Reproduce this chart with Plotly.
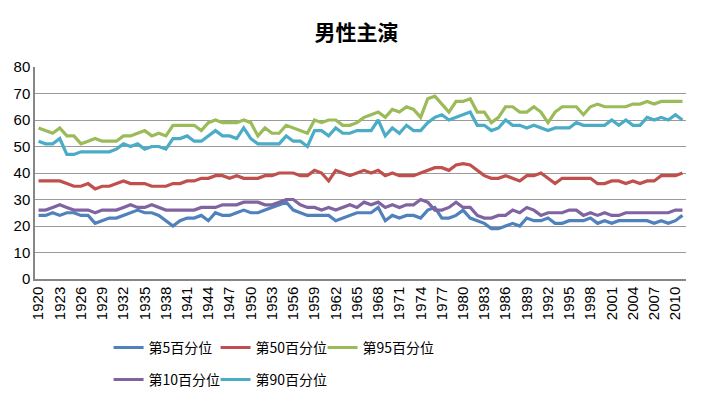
import plotly.graph_objects as go

years = list(range(1920, 2012))

p5 = [24, 24, 25, 24, 25, 25, 24, 24, 21, 22,
      23, 23, 24, 25, 26, 25, 25, 24, 22, 20,
      22, 23, 23, 24, 22, 25, 24, 24, 25, 26,
      25, 25, 26, 27, 28, 29, 26, 25, 24, 24,
      24, 24, 22, 23, 24, 25, 25, 25, 27, 22,
      24, 23, 24, 24, 23, 26, 27, 23, 23, 24,
      26, 23, 22, 21, 19, 19, 20, 21, 20, 23,
      22, 22, 23, 21, 21, 22, 22, 22, 23, 21,
      22, 21, 22, 22, 22, 22, 22, 21, 22, 21,
      22, 24]

p10 = [26, 26, 27, 28, 27, 26, 26, 26, 25, 26,
       26, 26, 27, 28, 27, 27, 28, 27, 26, 26,
       26, 26, 26, 27, 27, 27, 28, 28, 28, 29,
       29, 29, 28, 28, 29, 30, 30, 28, 27, 27,
       26, 27, 26, 27, 28, 27, 29, 28, 29, 27,
       28, 27, 28, 28, 30, 29, 26, 26, 27, 29,
       27, 27, 24, 23, 23, 24, 24, 26, 25, 27,
       26, 24, 25, 25, 25, 26, 26, 24, 25, 24,
       25, 24, 24, 25, 25, 25, 25, 25, 25, 25,
       26, 26]

p50 = [37, 37, 37, 37, 36, 35, 35, 36, 34, 35,
       35, 36, 37, 36, 36, 36, 35, 35, 35, 36,
       36, 37, 37, 38, 38, 39, 39, 38, 39, 38,
       38, 38, 39, 39, 40, 40, 40, 39, 39, 41,
       40, 37, 41, 40, 39, 40, 41, 40, 41, 39,
       40, 39, 39, 39, 40, 41, 42, 42, 41, 43,
       43.5, 43, 41, 39, 38, 38, 39, 38, 37, 39,
       39, 40, 38, 36, 38, 38, 38, 38, 38, 36,
       36, 37, 37, 36, 37, 36, 37, 37, 39, 39,
       39, 40]

p90 = [52, 51, 51, 53, 47, 47, 48, 48, 48, 48,
       48, 49, 51, 50, 51, 49, 50, 50, 49, 53,
       53, 54, 52, 52, 54, 56, 54, 54, 53, 57,
       53, 51, 51, 51, 51, 54, 52, 52, 50, 56,
       56, 54, 57, 55, 55, 56, 56, 56, 60, 54,
       57, 55, 58, 56, 56, 59, 61, 62, 60, 61,
       62, 63, 58, 58, 56, 57, 60, 58, 58, 57,
       58, 57, 56, 57, 57, 57, 59, 58, 58, 58,
       58, 60, 58, 60, 58, 58, 61, 60, 61, 60,
       62, 60]

p95 = [57, 56, 55, 57, 54, 54, 51, 52, 53, 52,
       52, 52, 54, 54, 55, 56, 54, 55, 54, 58,
       58, 58, 58, 56, 59, 60, 59, 59, 59, 60,
       59, 54, 57, 55, 55, 58, 57, 56, 55, 60,
       59, 60, 60, 58, 58, 59, 61, 62, 63, 61,
       64, 63, 65, 64, 61, 68, 69, 66, 63, 67,
       67, 68, 63, 63, 59, 61, 65, 65, 63, 63,
       65, 63, 59, 63, 65, 65, 65, 62, 65, 66,
       65, 65, 65, 65, 66, 66, 67, 66, 67, 67,
       67, 67]

series = [
    ("第5百分位", p5, "#4F81BD", "legend"),
    ("第50百分位", p50, "#C0504D", "legend"),
    ("第95百分位", p95, "#9BBB59", "legend"),
    ("第10百分位", p10, "#8064A2", "legend2"),
    ("第90百分位", p90, "#4BACC6", "legend2"),
]

tick_years = list(range(1920, 2012, 3))

fig = go.Figure()
for name, vals, color, lg in series:
    fig.add_trace(go.Scatter(
        x=years, y=vals, name=name, mode="lines",
        line=dict(color=color, width=3.2),
        legend=lg,
    ))

# empty spacer entries so the last real legend label is not clipped
for lg in ("legend", "legend2"):
    fig.add_trace(go.Scatter(
        x=[None], y=[None], name=" ", mode="lines",
        line=dict(color="rgba(0,0,0,0)", width=0),
        legend=lg, showlegend=True, hoverinfo="skip",
    ))

legend_common = dict(
    orientation="h", xanchor="left", yanchor="middle",
    font=dict(family="Noto Sans CJK SC", size=14, color="#000000"),
    entrywidth=62, entrywidthmode="pixels",
    bgcolor="rgba(0,0,0,0)", itemwidth=30,
    tracegroupgap=0,
)

fig.update_layout(
    width=697, height=392,
    margin=dict(l=27, r=19, t=59, b=121, autoexpand=False),
    paper_bgcolor="white", plot_bgcolor="white",
    title=dict(text="男性主演", x=0.5, xanchor="center",
               y=0.936, yref="container", yanchor="middle",
               font=dict(family="Noto Sans CJK SC", size=21, color="#000000", weight="bold")),
    showlegend=True,
    legend=dict(x=0.113, y=-0.325, **legend_common),
    legend2=dict(x=0.113, y=-0.476, **legend_common),
    xaxis=dict(
        range=[1919.5, 2011.5], automargin=False,
        tickmode="array", tickvals=tick_years, ticktext=[str(y) for y in tick_years],
        tickangle=-90,
        tickfont=dict(family="Liberation Sans", size=15, color="#000000"),
        showgrid=False, zeroline=False,
        showline=True, linecolor="#868686", linewidth=1.5,
        ticks="", ticklen=0,
    ),
    yaxis=dict(
        range=[0, 80], dtick=10, automargin=False,
        tickfont=dict(family="Liberation Sans", size=15, color="#000000"),
        showgrid=True, gridcolor="#9a9a9a", gridwidth=1,
        zeroline=False,
        showline=True, linecolor="#868686", linewidth=1.5,
        ticks="", ticklen=0,
    ),
)

fig.write_html("out.html")
